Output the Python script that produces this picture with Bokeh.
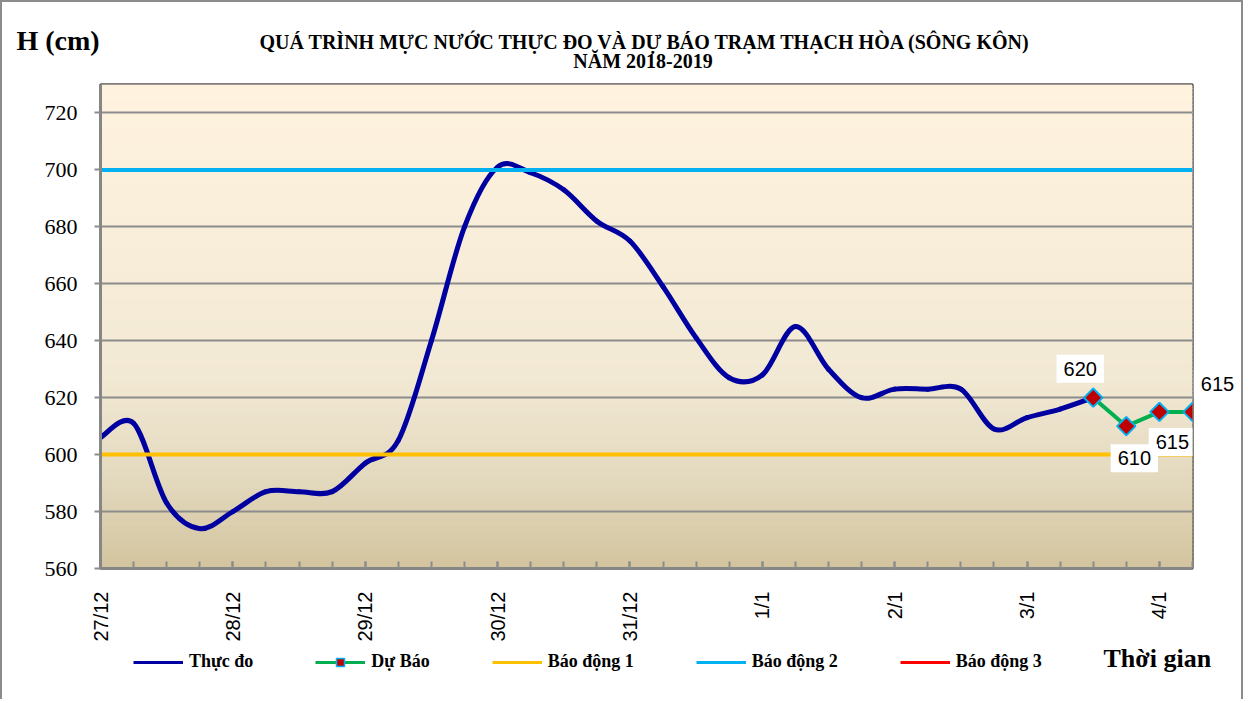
import numpy as np
from bokeh.plotting import figure
from bokeh.layouts import column
from bokeh.models import Range1d, FixedTicker, Legend, LegendItem, Label, Plot
from bokeh.embed import file_html
from bokeh.resources import INLINE

# ---------------- data ----------------
# one step = 6 hours, step 0 = 27/12 00h
day_labels = ["27/12", "28/12", "29/12", "30/12", "31/12", "1/1", "2/1", "3/1", "4/1"]
steps_per_day = 4
observed = [606, 611, 583, 574, 580, 587, 587, 587, 597, 605,
            640, 680, 701, 699, 693, 682, 675, 659, 641, 627,
            628, 645, 630, 620, 623, 623, 623, 609, 613, 616, 620]
forecast_start = 30
forecast = [620, 610, 615, 615]
bao_dong_1 = 600
bao_dong_2 = 700
bao_dong_3 = 800
y_min, y_max, y_step = 560, 730, 20

title_1 = "QUÁ TRÌNH MỰC NƯỚC THỰC ĐO VÀ DỰ BÁO TRẠM THẠCH HÒA (SÔNG KÔN)"
title_2 = "NĂM  2018-2019"
y_title = "H (cm)"
x_title = "Thời gian"
legend_labels = ["Thực đo", "Dự Báo", "Báo động 1", "Báo động 2", "Báo động 3"]

# colours / styles
c_obs, c_fc, c_bd1, c_bd2, c_bd3 = "#0000A0", "#00B050", "#FFC000", "#00B0F0", "#FF0000"
c_mark = "#C00000"
border_css = "2px solid #8c8c8c"
W, H_MAIN, H_LEG = 1243, 644, 55

# ---------------- derived ----------------
n_steps = forecast_start + len(forecast)
x_obs = np.arange(len(observed), dtype=float)
y_obs = np.array(observed, dtype=float)
x_fc = np.arange(forecast_start, n_steps, dtype=float)
x_all = np.arange(n_steps, dtype=float)
x_max = float(n_steps - 1)
can_unalign = "frame_align" in Plot.properties()

p = figure(width=W, height=H_MAIN,
           x_range=Range1d(0, x_max), y_range=Range1d(y_min, y_max),
           output_backend="svg", toolbar_location=None, tools="",
           min_border_left=98, min_border_top=82, min_border_right=53,
           min_border_bottom=78)
p.styles = {"border-left": border_css, "border-top": border_css, "border-right": border_css}
p.background_fill_color = "#FFF3DF"
p.border_fill_color = "white"
p.outline_line_color = "black"
p.outline_line_width = 2
if can_unalign:
    p.frame_align = False

# gradient background (decoration)
nb = 120
edges = np.linspace(y_min, y_max, nb + 1)
mids = (edges[:-1] + edges[1:]) / 2
t = (y_max - mids) / (y_max - y_min)
stops_t = [0.0, 0.6, 0.8, 1.0]
stops_c = np.array([(255, 243, 223), (242, 233, 212), (228, 218, 192), (211, 196, 158)], float)
cols = []
for tt in t:
    rgb = [np.interp(tt, stops_t, stops_c[:, i]) for i in range(3)]
    cols.append("#%02x%02x%02x" % tuple(int(round(v)) for v in rgb))
p.quad(left=0, right=x_max, bottom=edges[:-1], top=edges[1:], fill_color=cols,
       line_color=cols, line_width=1, level="image")

# grid / axes
yticks = list(range(y_min, y_max, y_step))
p.yaxis.ticker = FixedTicker(ticks=yticks)
p.ygrid.ticker = FixedTicker(ticks=yticks)
p.ygrid.grid_line_color = "#8c8c8c"
p.ygrid.grid_line_width = 2
p.xgrid.visible = False

xt = list(range(0, n_steps, steps_per_day))
p.xaxis.ticker = FixedTicker(ticks=xt, minor_ticks=list(range(n_steps)))
p.xaxis.major_label_overrides = {k: lab for k, lab in zip(xt, day_labels)}
p.xaxis.major_label_orientation = np.pi / 2
p.xaxis.major_label_text_font = "Liberation Sans"
p.xaxis.major_label_text_font_size = "20px"
p.xaxis.major_label_text_color = "black"
p.xaxis.major_label_standoff = 23
p.xaxis.major_tick_in = 7
p.xaxis.major_tick_out = 0
p.xaxis.minor_tick_in = 7
p.xaxis.minor_tick_out = 0
p.xaxis.major_tick_line_color = "#8c8c8c"
p.xaxis.minor_tick_line_color = "#8c8c8c"
p.xaxis.major_tick_line_width = 2
p.xaxis.minor_tick_line_width = 2

p.yaxis.major_label_text_font = "Liberation Serif"
p.yaxis.major_label_text_font_size = "22px"
p.yaxis.major_label_text_color = "black"
p.yaxis.major_label_standoff = 17
p.yaxis.major_tick_in = 0
p.yaxis.major_tick_out = 6
p.yaxis.minor_tick_line_color = None
p.yaxis.major_tick_line_color = "#8c8c8c"
p.yaxis.major_tick_line_width = 2
for ax in (p.xaxis, p.yaxis):
    ax.axis_line_color = "#868686"
    ax.axis_line_width = 3

# observed: smooth curve (Catmull-Rom cubic segments through the data points)
xp = np.concatenate([[x_obs[0]], x_obs, [x_obs[-1]]])
yp = np.concatenate([[y_obs[0]], y_obs, [y_obs[-1]]])
x0, y0 = x_obs[:-1], y_obs[:-1]
x1, y1 = x_obs[1:], y_obs[1:]
cx0 = x0 + (xp[2:-1] - xp[0:-3]) / 6.0
cy0 = y0 + (yp[2:-1] - yp[0:-3]) / 6.0
cx1 = x1 - (xp[3:] - xp[1:-2]) / 6.0
cy1 = y1 - (yp[3:] - yp[1:-2]) / 6.0
p.bezier(x0=x0, y0=y0, x1=x1, y1=y1, cx0=cx0, cy0=cy0, cx1=cx1, cy1=cy1,
         line_color=c_obs, line_width=5, line_cap="round")

# alarm levels
p.line(x_all, [bao_dong_1] * n_steps, line_color=c_bd1, line_width=4)
p.line(x_all, [bao_dong_2] * n_steps, line_color=c_bd2, line_width=4)
p.line(x_all, [bao_dong_3] * n_steps, line_color=c_bd3, line_width=4)

# forecast
p.line(x_fc, forecast, line_color=c_fc, line_width=4)
p.scatter(x_fc, forecast, marker="square", angle=np.pi / 4, size=13,
          fill_color=c_mark, line_color=c_bd2, line_width=2)

# data labels for forecast (the last one sits in the right panel: not clipped)
label_offsets = [(-13, 29), (8, -32), (13, -30), (25, 28)]
label_sides = ["center", "center", "center", "right"]
label_order = [2, 0, 1, 3]      # draw the lower 615 first so 610 stays on top
has_pad = "padding" in Label.properties()
for i in label_order:
    xv, yv = x_fc[i], forecast[i]
    dx, dy = label_offsets[i]
    kw = dict(x=xv, y=yv, text=str(yv), x_offset=dx, y_offset=dy,
              text_align="center", text_baseline="middle",
              text_font="Liberation Sans", text_font_size="20px", text_color="black",
              background_fill_color="white", background_fill_alpha=1.0)
    if has_pad:
        kw["padding"] = 7
    p.add_layout(Label(**kw), label_sides[i])

# titles: labels in the 'above' panel, positioned in data units
ypx = (y_max - y_min) / 484.0   # data units per pixel
xpx = x_max / 1092.0
p.add_layout(Label(x=545 * xpx, y=y_max + 33 * ypx, text=title_1 + "\n" + title_2,
                   text_align="center", text_baseline="middle", text_line_height=0.85,
                   text_font="Liberation Serif", text_font_style="bold",
                   text_font_size="20px", text_color="black"), "above")
p.add_layout(Label(x=-84 * xpx, y=y_max + 44 * ypx, text=y_title, text_align="left",
                   text_baseline="middle", text_font="Liberation Serif",
                   text_font_style="bold", text_font_size="28px", text_color="black"),
             "above")

# ---------------- legend strip (second figure) ----------------
# the series are drawn again here but fall outside this strip's y range,
# so only their legend glyphs show.
q = figure(width=W, height=H_LEG, x_range=Range1d(0, W), y_range=Range1d(0, H_LEG),
           output_backend="svg", toolbar_location=None, tools="",
           x_axis_location=None, y_axis_location=None,
           min_border_left=0, min_border_right=0, min_border_top=0, min_border_bottom=0)
q.styles = {"border-left": border_css, "border-right": border_css}
q.grid.visible = False
q.outline_line_color = None
q.background_fill_color = "white"
q.border_fill_color = "white"
if can_unalign:
    q.frame_align = False
    lx, tx = 131, 1101          # frame covers the whole strip
else:
    lx, tx = 37, 1003           # frame aligned with the main plot's frame

g_obs = q.line(x_obs, y_obs, line_color=c_obs, line_width=3)
g_fc = q.line(x_fc, forecast, line_color=c_fc, line_width=3)
g_fcm = q.scatter(x_fc, forecast, marker="square", angle=np.pi / 4, size=10,
                  fill_color=c_mark, line_color=c_bd2, line_width=1.5)
g_bd1 = q.line(x_all, [bao_dong_1] * n_steps, line_color=c_bd1, line_width=3)
g_bd2 = q.line(x_all, [bao_dong_2] * n_steps, line_color=c_bd2, line_width=3)
g_bd3 = q.line(x_all, [bao_dong_3] * n_steps, line_color=c_bd3, line_width=3)

legend = Legend(items=[
    LegendItem(label=legend_labels[0], renderers=[g_obs]),
    LegendItem(label=legend_labels[1], renderers=[g_fc, g_fcm]),
    LegendItem(label=legend_labels[2], renderers=[g_bd1]),
    LegendItem(label=legend_labels[3], renderers=[g_bd2]),
    LegendItem(label=legend_labels[4], renderers=[g_bd3]),
], orientation="horizontal", location=(lx, 27), glyph_width=50, glyph_height=20,
    label_height=20, label_standoff=6, spacing=62, padding=4, margin=0,
    border_line_color=None, background_fill_alpha=0,
    label_text_font="Liberation Serif", label_text_font_style="bold",
    label_text_font_size="18px", label_text_color="black")
q.add_layout(legend)
q.add_layout(Label(x=tx, y=41, text=x_title, text_align="left", text_baseline="middle",
                   text_font="Liberation Serif", text_font_style="bold",
                   text_font_size="26px", text_color="black"))

open("out.html", "w").write(file_html(column(p, q, spacing=0), INLINE))
